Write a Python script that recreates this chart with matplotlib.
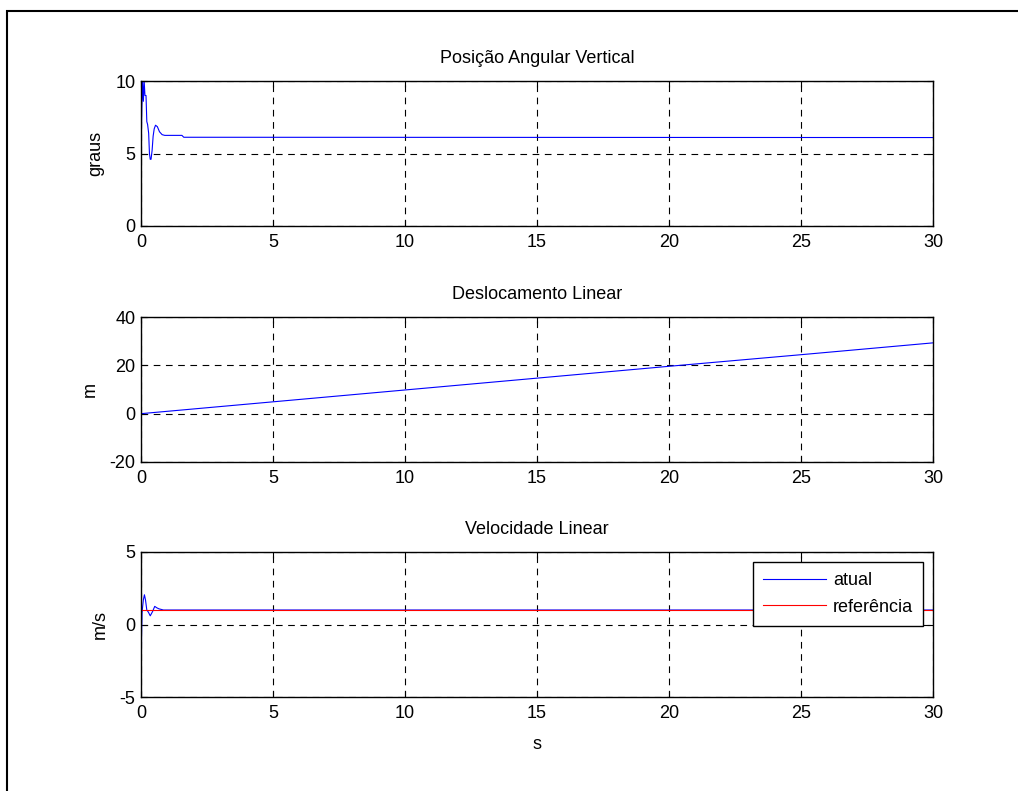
import matplotlib
matplotlib.use("Agg")
import matplotlib.pyplot as plt
import numpy as np
from matplotlib.patches import Rectangle

plt.rcParams['font.family'] = ['Liberation Sans', 'DejaVu Sans']
plt.rcParams['axes.unicode_minus'] = False

# --- data ---
t_ang = [0.0, 0.03, 0.06, 0.09, 0.12, 0.15, 0.19, 0.22, 0.25, 0.29, 0.32, 0.35, 0.38, 0.42, 0.46, 0.5, 0.55, 0.62, 0.7, 0.8, 0.9, 1.2, 1.55, 1.62, 30.0]
ang = [5.0, 8.0, 10.0, 8.6, 10.0, 9.0, 9.0, 7.2, 7.0, 6.4, 5.0, 4.6, 4.6, 5.2, 6.2, 6.7, 6.95, 6.85, 6.5, 6.3, 6.25, 6.25, 6.25, 6.12, 6.1]

t_pos = [0.0, 5.0, 10.0, 15.0, 20.0, 25.0, 30.0]
pos = [0.0, 4.9, 9.8, 14.7, 19.6, 24.4, 29.3]

t_vel = [0.0, 0.01, 0.02, 0.04, 0.06, 0.09, 0.13, 0.17, 0.22, 0.28, 0.35, 0.44, 0.52, 0.6, 0.68, 0.85, 30.0]
vel = [0.0, -4.5, -0.8, 0.8, 1.2, 1.7, 2.05, 1.7, 1.0, 0.85, 0.6, 0.9, 1.25, 1.15, 1.08, 1.0, 1.0]

t_ref = [0.0, 30.0]
vel_ref = [1.0, 1.0]

titles = ["Posição Angular Vertical", "Deslocamento Linear", "Velocidade Linear"]
ylabels = ["graus", "m", "m/s"]
ylims = [(0, 10), (-20, 40), (-5, 5)]
yticks = [[0, 5, 10], [-20, 0, 20, 40], [-5, 0, 5]]
xticks = [0, 5, 10, 15, 20, 25, 30]

FS = 13
W, H = 1018, 791
fig = plt.figure(figsize=(W / 100, H / 100), dpi=100)
fig.patches.append(Rectangle((7 / W, -0.05), 1.2, 1.05 - 11 / H, transform=fig.transFigure,
                             fill=False, edgecolor='black', linewidth=1.5, zorder=0))

left, right = 141, 933
tops = [81, 317, 552]
height = 145
axes = []
for i in range(3):
    ax = fig.add_axes([left / W, 1 - (tops[i] + height) / H, (right - left) / W, height / H])
    axes.append(ax)
    ax.set_xlim(0, 30)
    ax.set_ylim(*ylims[i])
    ax.set_xticks(xticks)
    ax.set_yticks(yticks[i])
    ax.tick_params(direction='in', labelsize=FS, top=True, right=True, length=4)
    ax.tick_params(axis='x', pad=6)
    ax.tick_params(axis='y', pad=4)
    ax.grid(True, color='black', linestyle=(0, (6, 5)), linewidth=0.8)
    ax.set_title(titles[i], fontsize=FS, pad=13)
    ax.set_ylabel(ylabels[i], fontsize=FS, labelpad=8)
    for s in ax.spines.values():
        s.set_linewidth(1.0)

axes[0].plot(t_ang, ang, color='blue', linewidth=0.8)
axes[1].plot(t_pos, pos, color='blue', linewidth=0.8)
axes[2].plot(t_vel, vel, color='blue', linewidth=0.8, label='atual')
axes[2].plot(t_ref, vel_ref, color='red', linewidth=0.8, label='referência')
axes[2].set_xlabel('s', fontsize=FS, labelpad=10)
leg = axes[2].legend(loc='upper right', fontsize=FS, frameon=True, fancybox=False,
                     edgecolor='black', framealpha=1, borderaxespad=0.55,
                     handlelength=3.5, handletextpad=0.4, labelspacing=0.55,
                     borderpad=0.55)
leg.get_frame().set_linewidth(1.0)

fig.savefig('out.png', dpi=100)
